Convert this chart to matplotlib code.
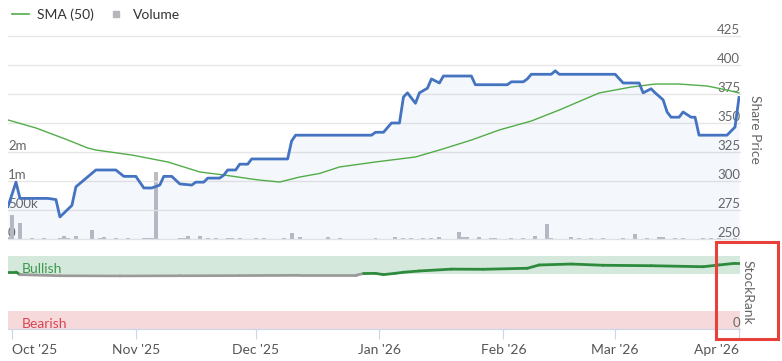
import numpy as np
import pandas as pd
import matplotlib
matplotlib.use('Agg')
import matplotlib.pyplot as plt
import matplotlib.dates as mdates
from matplotlib.collections import LineCollection
from matplotlib.lines import Line2D
from matplotlib.patches import Rectangle

plt.rcParams['font.family'] = ['Lato', 'DejaVu Sans']

# share price (daily close)
price_dates = ['2025-09-30', '2025-10-02', '2025-10-03', '2025-10-10', '2025-10-12', '2025-10-13',
               '2025-10-16', '2025-10-17', '2025-10-22', '2025-10-27', '2025-10-29', '2025-11-01',
               '2025-11-03', '2025-11-05', '2025-11-07', '2025-11-08', '2025-11-10', '2025-11-12',
               '2025-11-15', '2025-11-16', '2025-11-18', '2025-11-19', '2025-11-22', '2025-11-23',
               '2025-11-24', '2025-11-26', '2025-11-27', '2025-11-29', '2025-11-30', '2025-12-09',
               '2025-12-10', '2025-12-11', '2025-12-30', '2025-12-31', '2026-01-02', '2026-01-04',
               '2026-01-06', '2026-01-07', '2026-01-08', '2026-01-10', '2026-01-11', '2026-01-13',
               '2026-01-14', '2026-01-16', '2026-01-17', '2026-01-24', '2026-01-25', '2026-02-02',
               '2026-02-03', '2026-02-06', '2026-02-07', '2026-02-08', '2026-02-13', '2026-02-14',
               '2026-02-15', '2026-03-01', '2026-03-03', '2026-03-07', '2026-03-08', '2026-03-10',
               '2026-03-11', '2026-03-13', '2026-03-14', '2026-03-15', '2026-03-17', '2026-03-18',
               '2026-03-20', '2026-03-21', '2026-03-22', '2026-03-29', '2026-03-31', '2026-04-01']
price_vals = [278, 299, 285, 285, 284, 269,
              279, 295, 309.5, 309.5, 304, 304,
              294, 294, 296.5, 304, 304, 297.5,
              296.5, 299, 299, 302.5, 302.5, 305,
              309.5, 309.5, 314.5, 314.5, 319, 319,
              334.5, 339.5, 339.5, 342, 342, 350,
              350, 372.4, 376, 367, 376, 380,
              388, 384.5, 390.5, 390.5, 383, 383,
              385.5, 385.5, 388, 392, 392, 395,
              392, 392, 384.5, 384.5, 376, 379.5,
              376, 370, 359.5, 355, 355, 359.5,
              355, 355, 339.5, 339.5, 346.5, 372]

# 50 day simple moving average
sma_dates = ['2025-09-30', '2025-10-07', '2025-10-15', '2025-10-20', '2025-10-22', '2025-10-31',
             '2025-11-09', '2025-11-17', '2025-11-23', '2025-11-30', '2025-12-02', '2025-12-07',
             '2025-12-12', '2025-12-17', '2025-12-22', '2025-12-31', '2026-01-10', '2026-01-16',
             '2026-01-24', '2026-01-31', '2026-02-08', '2026-02-15', '2026-02-25', '2026-03-05',
             '2026-03-11', '2026-03-17', '2026-03-24', '2026-03-29', '2026-04-01']
sma_vals = [352.6, 345.7, 335.3, 328.4, 326.7, 322.4,
            316.4, 307.8, 305.2, 301.7, 300.8, 299.1,
            303.4, 306.5, 312.1, 316.4, 320.7, 326.7,
            335.3, 344.0, 351.7, 361.2, 375.9, 381.0,
            383.6, 383.6, 381.9, 378.4, 375.9]

# volume
vol_dates = ['2025-09-30', '2025-10-01', '2025-10-03', '2025-10-06', '2025-10-09', '2025-10-13',
             '2025-10-14', '2025-10-15', '2025-10-17', '2025-10-21', '2025-10-23', '2025-10-24',
             '2025-10-27', '2025-10-30', '2025-11-03', '2025-11-04', '2025-11-05', '2025-11-06',
             '2025-11-12', '2025-11-13', '2025-11-14', '2025-11-17', '2025-11-19', '2025-11-21',
             '2025-11-24', '2025-11-25', '2025-11-27', '2025-12-01', '2025-12-03', '2025-12-08',
             '2025-12-10', '2025-12-12', '2025-12-19', '2025-12-22', '2025-12-31', '2026-01-05',
             '2026-01-07', '2026-01-09', '2026-01-12', '2026-01-14', '2026-01-16', '2026-01-21',
             '2026-01-22', '2026-01-23', '2026-01-26', '2026-01-29', '2026-01-30', '2026-02-03',
             '2026-02-06', '2026-02-09', '2026-02-12', '2026-02-13', '2026-02-18', '2026-02-20',
             '2026-02-23', '2026-02-26', '2026-03-03', '2026-03-06', '2026-03-09', '2026-03-12',
             '2026-03-13', '2026-03-16', '2026-03-18', '2026-03-23', '2026-03-25', '2026-03-27',
             '2026-03-31']
vol_vals = [30e3, 410e3, 275e3, 20e3, 15e3, 15e3,
            55e3, 20e3, 45e3, 160e3, 20e3, 30e3,
            20e3, 15e3, 15e3, 15e3, 15e3, 1150e3,
            15e3, 20e3, 45e3, 55e3, 25e3, 20e3,
            25e3, 20e3, 15e3, 20e3, 15e3, 25e3,
            110e3, 30e3, 35e3, 15e3, 15e3, 40e3,
            20e3, 25e3, 20e3, 15e3, 40e3, 120e3,
            40e3, 35e3, 30e3, 15e3, 15e3, 15e3,
            25e3, 45e3, 260e3, 20e3, 30e3, 20e3,
            15e3, 20e3, 20e3, 85e3, 25e3, 40e3,
            35e3, 20e3, 20e3, 15e3, 20e3, 15e3,
            20e3]

# StockRank
rank_dates = ['2025-09-30', '2025-10-02', '2025-10-03', '2025-10-13', '2025-10-28', '2025-11-12',
              '2025-11-27', '2025-12-12', '2025-12-26', '2025-12-28', '2025-12-31', '2026-01-02',
              '2026-01-05', '2026-01-07', '2026-01-11', '2026-01-19', '2026-01-27', '2026-02-07',
              '2026-02-10', '2026-02-18', '2026-02-26', '2026-03-10', '2026-03-23', '2026-03-27',
              '2026-03-31', '2026-04-01']
rank_vals = [78, 78, 74.5, 73, 72.8, 73,
             73.2, 73.5, 73.5, 76, 76.2, 74.5,
             76.3, 77.7, 79.5, 82, 81.8, 83.2,
             87.7, 89, 87.3, 86.7, 85.3, 87.7,
             90, 90]

price_ticks = [250, 275, 300, 325, 350, 375, 400, 425]
vol_ticks = [0, 500e3, 1e6, 1.5e6]
vol_labels = ['0', '500k', '1m', '2m']
month_ticks = ['2025-10-01', '2025-11-01', '2025-12-01', '2026-01-01', '2026-02-01', '2026-03-01', '2026-04-01']

price_dates = pd.to_datetime(price_dates)
sma_dates = pd.to_datetime(sma_dates)
vol_dates = pd.to_datetime(vol_dates)
rank_dates = pd.to_datetime(rank_dates)
month_ticks = pd.to_datetime(month_ticks)

W, H = 782, 361
fig = plt.figure(figsize=(W / 100, H / 100), dpi=100)
xmin, xmax = pd.Timestamp('2025-09-30'), pd.Timestamp('2026-04-01 06:00')

blue = '#4473c2'
green = '#52ad48'
text_grey = '#666666'

# top panel: volume (left axis) + price (right axis)
ax_vol = fig.add_axes([8 / W, (H - 239) / H, 732 / W, 203 / H])
ax = ax_vol.twinx()

ax_vol.bar(vol_dates, vol_vals, width=1.0, color='#bcbcc2', zorder=2)
ax_vol.set_ylim(0, 3.5e6)
ax_vol.set_yticks(vol_ticks)
ax_vol.set_yticklabels(vol_labels)
ax_vol.tick_params(axis='y', length=0, pad=0, labelsize=9.5, labelcolor=text_grey)
plt.setp(ax_vol.get_yticklabels(), ha='left', va='bottom')

ax.fill_between(price_dates, price_vals, 250, color=blue, alpha=0.055, lw=0, zorder=1)
ax.plot(sma_dates, sma_vals, color=green, lw=1.0, zorder=3)
ax.plot(price_dates, price_vals, color=blue, lw=2.0, zorder=4, solid_joinstyle='round')
ax.set_ylim(250, 425)
ax.set_yticks(price_ticks)
ax.tick_params(axis='y', length=0, pad=0, labelsize=9.5, labelcolor=text_grey)
plt.setp(ax.get_yticklabels(), ha='right', va='bottom')
ax.grid(axis='y', color='#e6e6e6', lw=1)
for gl in ax.get_ygridlines():
    gl.set_clip_on(False)
ax.set_axisbelow(True)
ax.set_ylabel('Share Price', rotation=270, fontsize=10, color=text_grey, va='center', ha='center')
ax.yaxis.set_label_coords((755 - 8) / 732, (239 - 129) / 203)

for a in (ax_vol, ax):
    a.set_xlim(xmin, xmax)
    a.set_xticks([])
    for s in a.spines.values():
        s.set_visible(False)

handles = [Line2D([], [], color=green, lw=1.2),
           Line2D([], [], marker='s', color='#b5b5bb', ls='none', markersize=5)]
fig.legend(handles, ['SMA (50)', 'Volume'], loc='upper left', bbox_to_anchor=(12 / W, 1 - 8 / H),
           ncol=2, frameon=False, fontsize=10, handlelength=1.2, handletextpad=0.6,
           columnspacing=1.0, borderaxespad=0, borderpad=0, labelcolor='#333333')

# bottom panel: StockRank
axr = fig.add_axes([8 / W, (H - 329) / H, 732 / W, 73 / H])
axr.axhspan(75, 100, color='#d4e8db', lw=0, zorder=0)
axr.axhspan(0, 25, color='#f6d9db', lw=0, zorder=0)

xr = mdates.date2num(rank_dates)
pts = np.column_stack([xr, rank_vals])
segs = np.stack([pts[:-1], pts[1:]], axis=1)
cols = ['#2e8b3e' if (a + b) / 2 >= 75 else '#9a9a9a' for a, b in zip(rank_vals[:-1], rank_vals[1:])]
axr.add_collection(LineCollection(segs, colors=cols, linewidths=2.0, capstyle='round', zorder=3))

axr.text(14 / 732, 76.5, 'Bullish', transform=axr.get_yaxis_transform(), color='#3b9a4b', fontsize=10, va='baseline')
axr.text(14 / 732, 2, 'Bearish', transform=axr.get_yaxis_transform(), color='#d94452', fontsize=10, va='baseline')

axr.set_xlim(xmin, xmax)
axr.set_ylim(0, 100)
axr.yaxis.tick_right()
axr.set_yticks([0])
axr.tick_params(axis='y', length=0, pad=0, labelsize=9.5, labelcolor=text_grey)
plt.setp(axr.get_yticklabels(), ha='right', va='bottom')
axr.set_ylabel('StockRank', rotation=270, fontsize=10, color=text_grey, va='center', ha='center')
axr.yaxis.set_label_position('right')
axr.yaxis.set_label_coords((754 - 8) / 732, (329 - 292) / 73)

axr.set_xticks(month_ticks)
axr.xaxis.set_major_formatter(mdates.DateFormatter("%b '%y"))
axr.tick_params(axis='x', length=7, color='#ccd6eb', labelsize=10, labelcolor='#555555', pad=4)
xl = axr.get_xticklabels()
xl[0].set_ha('left')
xl[-1].set_ha('right')
for s in ['top', 'left', 'right']:
    axr.spines[s].set_visible(False)
axr.spines['bottom'].set_color('#ccd6eb')

fig.add_artist(Rectangle((716 / W, 1 - 339 / H), 62 / W, 97 / H, transform=fig.transFigure,
                         fill=False, ec='#e8413c', lw=2.2))

fig.savefig('out.png', dpi=100)
